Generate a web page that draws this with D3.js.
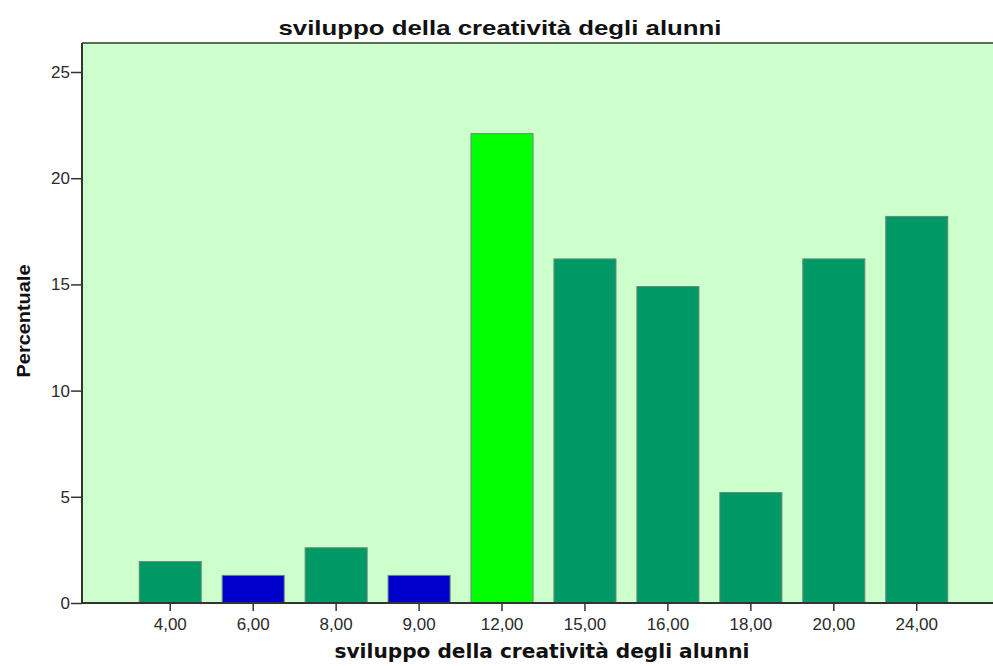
<!DOCTYPE html>
<html lang="it">
<head>
<meta charset="UTF-8">
<title>sviluppo della creatività degli alunni</title>
<script src="https://d3js.org/d3.v7.min.js"></script>
<style>
    body { margin: 0; background: #fff; }
    svg { display: block; }
    .tick text { font-family: Arial, "Liberation Sans", sans-serif; font-size: 17px; fill: #2a2a2a; }
</style>
</head>
<body>
<svg></svg>
<script>
    // dati
    const categories = ["4,00", "6,00", "8,00", "9,00", "12,00", "15,00", "16,00", "18,00", "20,00", "24,00"];
    const percentuali = [1.95, 1.3, 2.6, 1.3, 22.1, 16.2, 14.9, 5.2, 16.2, 18.2];
    const barColors = ["#009966", "#0000cc", "#009966", "#0000cc", "#00ff00", "#009966", "#009966", "#009966", "#009966", "#009966"];
    const yTicks = [0, 5, 10, 15, 20, 25];

    const W = 993, H = 666;
    const plot = {left: 82, top: 43, right: 1005, bottom: 603};

    const svg = d3.select("svg").attr("width", W).attr("height", H);

    const x = d3.scaleBand()
        .domain(categories)
        .range([plot.left, plot.right])
        .paddingInner(0.252)
        .paddingOuter(0.69);

    const y = d3.scaleLinear()
        .domain([0, 25])
        .range([plot.bottom, 72]);

    // sfondo dell'area del grafico
    svg.append("rect")
        .attr("x", plot.left)
        .attr("y", plot.top)
        .attr("width", plot.right - plot.left)
        .attr("height", plot.bottom - plot.top)
        .attr("fill", "#ccffcc");

    svg.append("line")
        .attr("x1", plot.left).attr("x2", plot.right)
        .attr("y1", plot.top).attr("y2", plot.top)
        .attr("stroke", "#5a6a5a").attr("stroke-width", 2);

    // barre
    svg.selectAll(".bar")
        .data(percentuali)
        .join("rect")
        .attr("class", "bar")
        .attr("x", (d, i) => x(categories[i]))
        .attr("y", d => y(d))
        .attr("width", x.bandwidth())
        .attr("height", d => y(0) - y(d))
        .attr("fill", (d, i) => barColors[i])
        .attr("stroke", "#6a8a7a")
        .attr("stroke-width", 1);

    // asse y
    const yAxis = svg.append("g")
        .attr("transform", `translate(${plot.left},0)`)
        .call(d3.axisLeft(y).tickValues(yTicks).tickSize(11).tickPadding(1));
    yAxis.select(".domain").attr("d", `M0,${plot.top}V${plot.bottom}`)
        .attr("stroke", "#333").attr("stroke-width", 2);
    yAxis.selectAll(".tick line").attr("stroke", "#333").attr("stroke-width", 1.5);

    // asse x
    const xAxis = svg.append("g")
        .attr("transform", `translate(0,${plot.bottom})`)
        .call(d3.axisBottom(x).tickSize(8).tickPadding(7));
    xAxis.select(".domain").attr("d", `M${plot.left},0H${plot.right}`)
        .attr("stroke", "#333").attr("stroke-width", 2);
    xAxis.selectAll(".tick line").attr("stroke", "#333").attr("stroke-width", 1.5);

    // titoli
    svg.append("text")
        .attr("x", 500).attr("y", 35)
        .attr("text-anchor", "middle")
        .attr("font-family", "Arial, 'Liberation Sans', sans-serif")
        .attr("font-weight", "bold")
        .attr("font-size", 21)
        .attr("textLength", 443)
        .attr("lengthAdjust", "spacingAndGlyphs")
        .attr("fill", "#111")
        .text("sviluppo della creatività degli alunni");

    svg.append("text")
        .attr("x", 542).attr("y", 658)
        .attr("text-anchor", "middle")
        .attr("font-family", "'DejaVu Sans', Verdana, sans-serif")
        .attr("font-weight", "bold")
        .attr("font-size", 19)
        .attr("textLength", 415)
        .attr("lengthAdjust", "spacingAndGlyphs")
        .attr("fill", "#111")
        .text("sviluppo della creatività degli alunni");

    svg.append("text")
        .attr("transform", "translate(30,321) rotate(-90)")
        .attr("text-anchor", "middle")
        .attr("font-family", "Arial, 'Liberation Sans', sans-serif")
        .attr("font-weight", "bold")
        .attr("font-size", 18)
        .attr("textLength", 113)
        .attr("lengthAdjust", "spacingAndGlyphs")
        .attr("fill", "#111")
        .text("Percentuale");
</script>
</body>
</html>
